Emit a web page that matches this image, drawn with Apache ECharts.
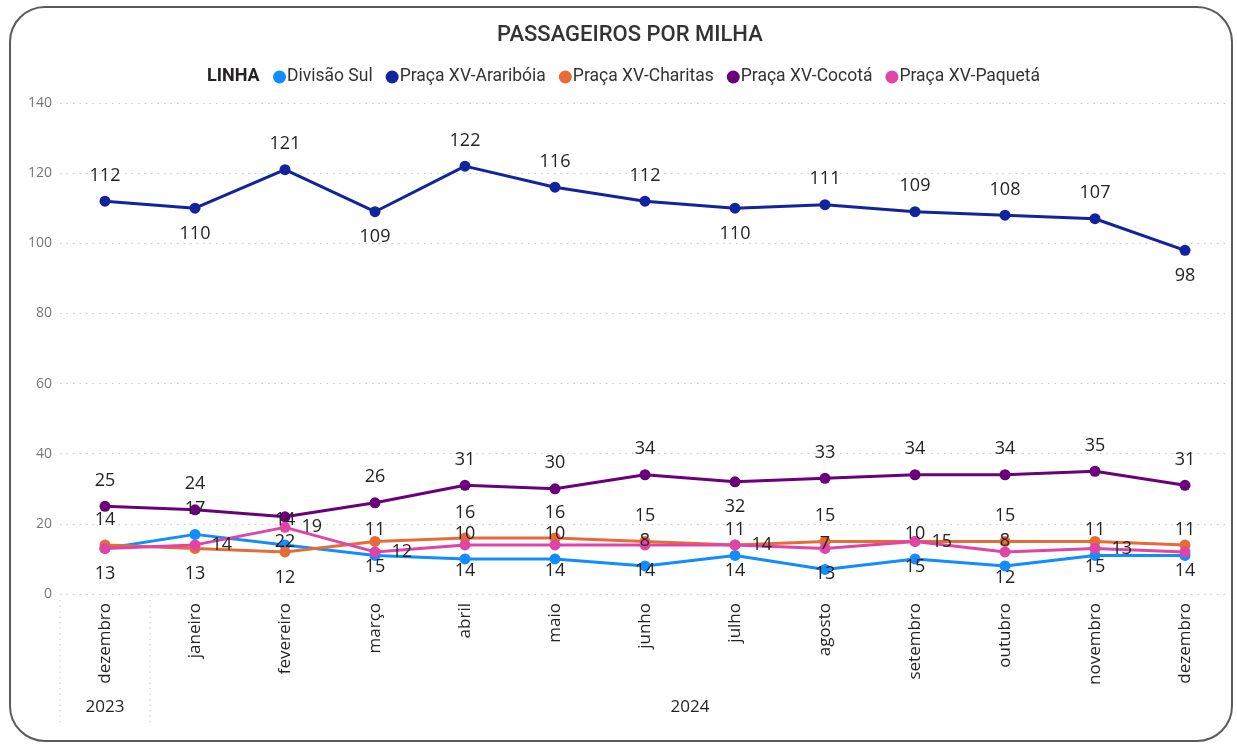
<!DOCTYPE html>
<html>
<head>
<meta charset="utf-8">
<script src="https://cdn.jsdelivr.net/npm/echarts@6/dist/echarts.min.js"></script>
<style>
  html, body { margin: 0; padding: 0; background: #fff; }
  #frame { position: absolute; left: 9px; top: 6px; width: 1224px; height: 736px;
    border: 2px solid #5b5b5b; border-radius: 36px; box-sizing: border-box; }
  #chart { position: absolute; left: 0; top: 0; width: 1237px; height: 745px; }
</style>
</head>
<body>
<div id="frame"></div>
<div id="chart"></div>
<script>
// meses (dez/2023 .. dez/2024)
const months = ['dezembro', 'janeiro', 'fevereiro', 'março', 'abril', 'maio', 'junho',
  'julho', 'agosto', 'setembro', 'outubro', 'novembro', 'dezembro']
const years = ['2023', '2024']
const yTicks = [0, 20, 40, 60, 80, 100, 120, 140]

const divisaoSul = [13, 17, 14, 11, 10, 10, 8, 11, 7, 10, 8, 11, 11]
const arariboia = [112, 110, 121, 109, 122, 116, 112, 110, 111, 109, 108, 107, 98]
const charitas = [14, 13, 12, 15, 16, 16, 15, 14, 15, 15, 15, 15, 14]
const cocota = [25, 24, 22, 26, 31, 30, 34, 32, 33, 34, 34, 35, 31]
const paqueta = [13, 14, 19, 12, 14, 14, 14, 14, 13, 15, 12, 13, 12]

// onde fica o rótulo de cada ponto: T acima, B abaixo, R direita, - sem rótulo
const placeDivisao = 'BTTTTTTTTTTTT'
const placeArariboia = 'TBTBTTTBTTTTB'
const placeCharitas = 'TBBBTTTBTBTBB'
const placeCocota = 'TTBTTTTBTTTTT'
const placePaqueta = '-RRRBBBRBRBR-'

const POS = { T: 'top', B: 'bottom', R: 'right' }
function points(values, places) {
  return values.map((v, i) => places[i] === '-'
    ? { value: v, label: { show: false } }
    : { value: v, label: { position: POS[places[i]] } })
}

const chart = echarts.init(document.getElementById('chart'))
const FONT = '"Open Sans", "Noto Sans", sans-serif'

function line(name, color, values, places) {
  return {
    name, type: 'line', data: points(values, places),
    symbol: 'circle', symbolSize: 11,
    lineStyle: { width: 3, color }, itemStyle: { color },
    label: { show: true, distance: 11, color: '#252423', fontSize: 18, fontFamily: FONT },
    emphasis: { disabled: true },
  }
}

chart.setOption({
  animation: false,
  title: [
    { text: 'PASSAGEIROS POR MILHA', left: 492, top: 19,
      textStyle: { fontFamily: 'Roboto', fontSize: 22, fontWeight: 500, color: '#333' } },
    { text: 'LINHA', left: 202, top: 62,
      textStyle: { fontFamily: 'Roboto', fontSize: 18, fontWeight: 'bold', color: '#252423' } },
  ],
  legend: {
    left: 268, top: 63, icon: 'circle', itemWidth: 13, itemHeight: 13, itemGap: 13,
    textStyle: { fontFamily: 'Roboto', fontSize: 17.5, color: '#333', padding: [0, 0, 0, -4] },
  },
  grid: { left: 60, right: 7, top: 103, bottom: 151 },
  xAxis: {
    type: 'category', data: months, boundaryGap: true,
    axisLine: { show: false }, axisTick: { show: false },
    axisLabel: { rotate: 90, margin: 9, fontSize: 17, color: '#252423', fontFamily: FONT, interval: 0 },
  },
  yAxis: {
    type: 'value', min: 0, max: 140, interval: 20,
    axisLabel: { color: '#777', fontSize: 14, margin: 8, fontFamily: FONT,
      formatter: (v) => yTicks.includes(v) ? String(v) : '' },
    splitLine: { lineStyle: { color: '#c8c8c8', width: 1, type: [1.5, 5] } },
  },
  series: [
    line('Divisão Sul', '#118DFF', divisaoSul, placeDivisao),
    line('Praça XV-Araribóia', '#12239E', arariboia, placeArariboia),
    line('Praça XV-Charitas', '#E66C37', charitas, placeCharitas),
    line('Praça XV-Cocotá', '#6B007B', cocota, placeCocota),
    line('Praça XV-Paquetá', '#E044A7', paqueta, placePaqueta),
  ],
})

// agrupamento por ano abaixo dos meses
const px = (i) => chart.convertToPixel({ xAxisIndex: 0 }, i)
const step = px(1) - px(0)
const sepStyle = { stroke: '#c8c8c8', lineWidth: 1, lineDash: [1.5, 4] }
const yearFont = '17px ' + FONT
chart.setOption({
  graphic: [
    { type: 'line', shape: { x1: px(0) - step / 2, y1: 600, x2: px(0) - step / 2, y2: 722 }, style: sepStyle, silent: true },
    { type: 'line', shape: { x1: px(0) + step / 2, y1: 600, x2: px(0) + step / 2, y2: 722 }, style: sepStyle, silent: true },
    { type: 'text', x: px(0), y: 707, style: { text: years[0], fill: '#252423', font: yearFont, align: 'center', verticalAlign: 'middle' } },
    { type: 'text', x: (px(1) + px(12)) / 2, y: 707, style: { text: years[1], fill: '#252423', font: yearFont, align: 'center', verticalAlign: 'middle' } },
  ],
})
</script>
</body>
</html>
